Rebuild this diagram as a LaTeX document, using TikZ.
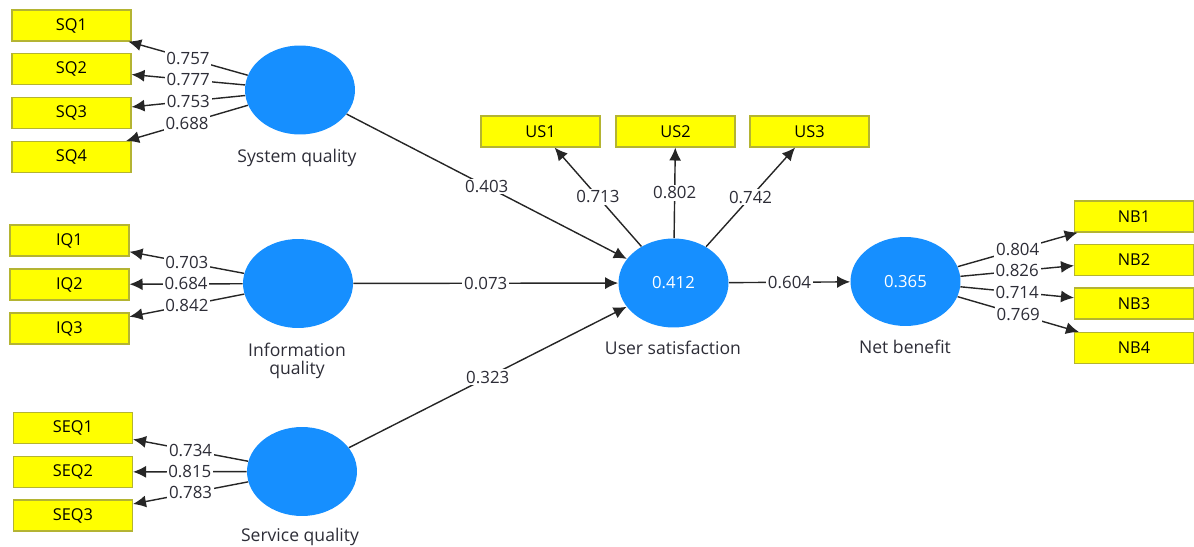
\documentclass[tikz,border=0pt]{standalone}
\usepackage{fontspec}
\setmainfont{Open Sans}
\usetikzlibrary{shapes.geometric,arrows.meta}
\definecolor{lvblue}{RGB}{22,143,255}
\definecolor{mvyellow}{RGB}{255,255,0}
\definecolor{mvedge}{RGB}{180,180,50}
\definecolor{inkgray}{RGB}{45,45,55}
\begin{document}
\begin{tikzpicture}[x=0.02cm,y=-0.02cm,
  font=\fontsize{9}{11}\selectfont,
  latent/.style={ellipse,fill=lvblue,inner sep=0pt,
    minimum width=2.2cm,minimum height=1.78cm,text=white,
    font=\fontsize{9.5}{11}\selectfont},
  indicator/.style={rectangle,fill=mvyellow,draw=mvedge,line width=0.6pt,
    minimum width=2.38cm,minimum height=0.62cm,inner sep=0pt,text=black,
    font=\fontsize{9.3}{11}\selectfont},
  caption/.style={text=inkgray,align=center,font=\fontsize{10}{10.4}\selectfont},
  link/.style={draw=black!85,line width=0.8pt,-{Latex[length=2.6mm,width=2.4mm]}},
  coef/.style={fill=white,inner sep=1pt,text=inkgray,pos=0.5,
    font=\fontsize{9.6}{11}\selectfont}]
\path[use as bounding box] (0,0) rectangle (1194,547);

% latent variables
\node[latent] (sq)  at (300,90)    {};
\node[latent] (iq)  at (298,283.5) {};
\node[latent] (seq) at (302,471.5) {};
\node[latent] (us)  at (673.5,283) {0.412};
\node[latent] (nb)  at (905.5,281.5) {0.365};

\node[caption] (sqcap)  at (297,158) {System quality};
\node[caption] (iqcap)  at (297,361) {Information\\quality};
\node[caption] (seqcap) at (300,537) {Service quality};
\node[caption] (uscap)  at (673,348) {User satisfaction};
\node[caption] (nbcap)  at (905,347) {Net benefit};

% indicators
\node[indicator] (sq1) at (71.5,25.5) {SQ1};
\node[indicator] (sq2) at (71.5,69)   {SQ2};
\node[indicator] (sq3) at (71.5,113)  {SQ3};
\node[indicator] (sq4) at (71.5,157)  {SQ4};

\node[indicator] (iq1) at (69.5,240.5) {IQ1};
\node[indicator] (iq2) at (69.5,284.5) {IQ2};
\node[indicator] (iq3) at (69.5,328.5) {IQ3};

\node[indicator] (seq1) at (73,428)   {SEQ1};
\node[indicator] (seq2) at (73,472)   {SEQ2};
\node[indicator] (seq3) at (73,515.5) {SEQ3};

\node[indicator] (us1) at (540.5,131.5) {US1};
\node[indicator] (us2) at (675.5,131.5) {US2};
\node[indicator] (us3) at (809.5,131.5) {US3};

\node[indicator] (nb1) at (1134,216.5) {NB1};
\node[indicator] (nb2) at (1134,260)   {NB2};
\node[indicator] (nb3) at (1134,303.5) {NB3};
\node[indicator] (nb4) at (1134,348)   {NB4};

% outer loadings
\draw[link] (sq) -- node[coef]{0.757} (sq1);
\draw[link] (sq) -- node[coef]{0.777} (sq2);
\draw[link] (sq) -- node[coef]{0.753} (sq3);
\draw[link] (sq) -- node[coef]{0.688} (sq4);

\draw[link] (iq) -- node[coef]{0.703} (iq1);
\draw[link] (iq) -- node[coef]{0.684} (iq2);
\draw[link] (iq) -- node[coef]{0.842} (iq3);

\draw[link] (seq) -- node[coef]{0.734} (seq1);
\draw[link] (seq) -- node[coef]{0.815} (seq2);
\draw[link] (seq) -- node[coef]{0.783} (seq3);

\draw[link] (us) -- node[coef]{0.713} (us1);
\draw[link] (us) -- node[coef]{0.802} (us2);
\draw[link] (us) -- node[coef]{0.742} (us3);

\draw[link] (nb) -- node[coef]{0.804} (nb1);
\draw[link] (nb) -- node[coef]{0.826} (nb2);
\draw[link] (nb) -- node[coef]{0.714} (nb3);
\draw[link] (nb) -- node[coef]{0.769} (nb4);

% path coefficients
\draw[link] (sq)  -- node[coef]{0.403} (us);
\draw[link] (iq)  -- node[coef]{0.073} (us);
\draw[link] (seq) -- node[coef]{0.323} (us);
\draw[link] (us)  -- node[coef]{0.604} (nb);
\end{tikzpicture}
\end{document}
